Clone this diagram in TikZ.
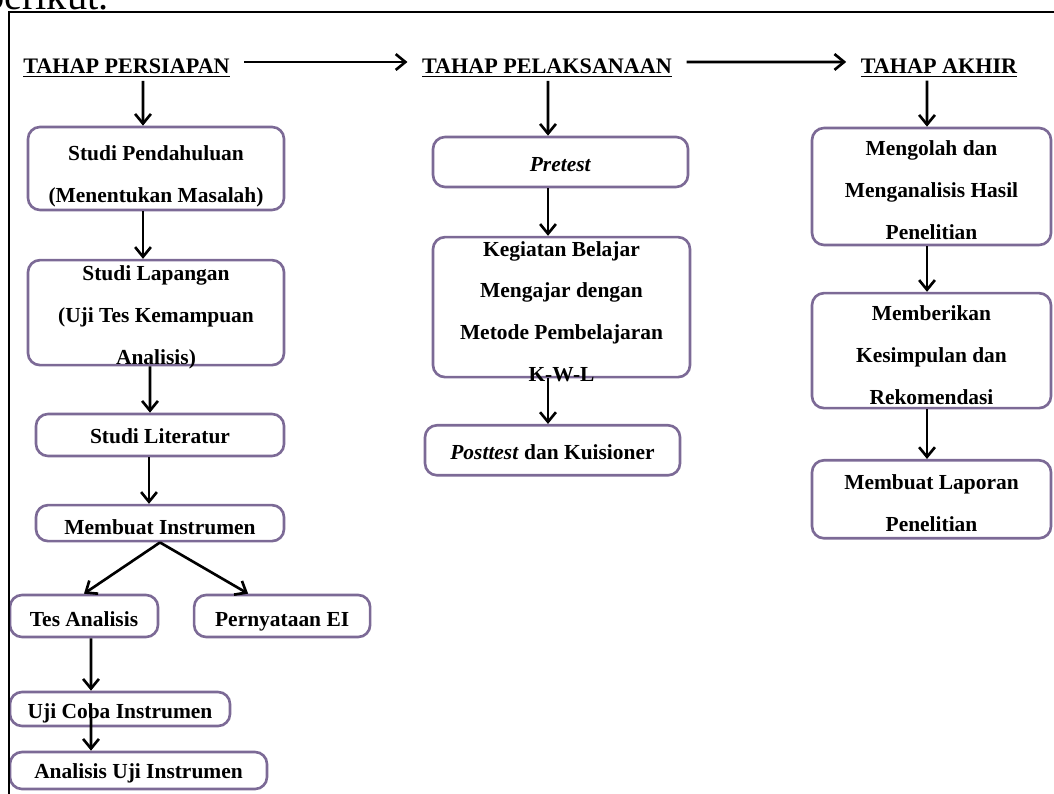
\documentclass[tikz,border=0pt]{standalone}
\usepackage{fontspec}
\setmainfont{Liberation Serif}
\usetikzlibrary{positioning,arrows.meta}
\definecolor{boxline}{RGB}{124,106,150}

\begin{document}
\begin{tikzpicture}[x=0.2mm, y=-0.2mm, line width=1.5pt,
    >={Straight Barb[length=5.5pt,width=9pt]},
    main/.style = {draw=boxline, line width=1.5pt, rounded corners=2.4mm, inner sep=0pt},
    txt/.style = {font=\bfseries\fontsize{12.2}{23.8}\selectfont, align=center, inner sep=0pt},
    one/.style = {txt, text height=8.5pt, text depth=2.6pt},
    head/.style = {font=\bfseries\fontsize{12.6}{15}\selectfont, inner sep=1pt, anchor=base},
    hline/.style = {->, shorten <=2.3mm, shorten >=2.3mm}]
    \useasboundingbox (0,0) rectangle (1054,794);
    \node[font=\fontsize{23}{23}\selectfont, anchor=base east, inner sep=0pt] (top) at (110,10) {berikut.};

    \node[head] (hp) at (126.5,74) {\underline{TAHAP PERSIAPAN}};
    \node[head] (hk) at (547,74) {\underline{TAHAP PELAKSANAAN}};
    \node[head] (ha) at (939,74) {\underline{TAHAP AKHIR}};

    \path[hline] ([yshift=1.3mm]hp.east) edge ([yshift=1.3mm]hk.west);
    \path[hline] ([yshift=1.3mm]hk.east) edge ([yshift=1.3mm]ha.west);

    % persiapan
    \node[main, minimum width=51.2mm, minimum height=16.6mm] (p1) at (156,168.5) {};
    \node[main, minimum width=51.2mm, minimum height=21mm] (p2) [below=9.5mm of p1] {};
    \node[main, minimum width=49.6mm, minimum height=8.4mm] (p3) at (160,435) {};
    \node[main, minimum width=49.6mm, minimum height=7.2mm] (p4) [below=9.3mm of p3] {};
    \node[main, minimum width=29.6mm, minimum height=8.4mm] (p5) at (84,616) {};
    \node[main, minimum width=35.2mm, minimum height=8.4mm] (p6) [right=6.7mm of p5] {};
    \node[main, minimum width=44mm, minimum height=6.8mm] (p7) at (120,709) {};
    \node[main, minimum width=51.4mm, minimum height=7.4mm] (p8) at (138.5,770.5) {};

    \node[txt, yshift=-1.6mm] (p1t) at (p1) {Studi Pendahuluan\\(Menentukan Masalah)};
    \node[txt, yshift=-1mm] (p2t) at (p2) {Studi Lapangan\\(Uji Tes Kemampuan\\Analisis)};
    \node[one, yshift=-0.6mm] (p3t) at (p3) {Studi Literatur};
    \node[one, yshift=-1.3mm] (p4t) at (p4) {Membuat Instrumen};
    \node[one, yshift=-1.1mm] (p5t) at (p5) {Tes Analisis};
    \node[one, yshift=-1.1mm] (p6t) at (p6) {Pernyataan EI};
    \node[one, yshift=-0.9mm] (p7t) at (p7) {Uji Coba Instrumen};
    \node[one, yshift=-0.5mm] (p8t) at (p8) {Analisis Uji Instrumen};

    \path[->] ([xshift=3.3mm]hp.south) edge ([xshift=-2.6mm]p1.north);
    \path[->] ([xshift=-2.6mm]p1.south) edge ([xshift=-2.6mm]p2.north);
    \path[->] ([xshift=-1.2mm]p2.south) edge ([xshift=-2mm]p3.north);
    \path[->] ([xshift=-2.2mm]p3.south) edge ([xshift=-2.2mm]p4.north);
    \path[->] (p4.south) edge (p5.north);
    \path[->] (p4.south) edge ([xshift=-6.8mm]p6.north);
    \path[->] ([xshift=1.4mm]p5.south) edge ([xshift=-5.8mm]p7.north);
    \path[->] ([xshift=-5.8mm]p7.center) edge ([xshift=-9.5mm]p8.north);

    % pelaksanaan
    \node[main, minimum width=51mm, minimum height=10mm] (k1) at (560.5,162) {};
    \node[main, minimum width=51.4mm, minimum height=28mm] (k2) [below=9.5mm of k1, xshift=0.2mm] {};
    \node[main, minimum width=51mm, minimum height=10mm] (k3) [below=9.1mm of k2, xshift=-1.8mm] {};

    \node[one, yshift=-0.9mm] (k1t) at (k1) {\textit{Pretest}};
    \node[txt, yshift=-0.9mm] (k2t) at (k2) {Kegiatan Belajar\\Mengajar dengan\\Metode Pembelajaran\\K-W-L};
    \node[one, yshift=-0.9mm] (k3t) at (k3) {\textit{Posttest} dan Kuisioner};

    \path[->] ([xshift=0.2mm]hk.south) edge ([xshift=-2.5mm]k1.north);
    \path[->] ([xshift=-2.5mm]k1.south) edge ([xshift=-2.7mm]k2.north);
    \path[->] ([xshift=-2.7mm]k2.south) edge ([xshift=-0.9mm]k3.north);

    % akhir
    \node[main, minimum width=47.8mm, minimum height=23.4mm] (a1) at (931.5,186.5) {};
    \node[main, minimum width=47.8mm, minimum height=23mm] (a2) [below=9.1mm of a1] {};
    \node[main, minimum width=47.8mm, minimum height=15.6mm] (a3) [below=9.9mm of a2] {};

    \node[txt, yshift=-0.7mm] (a1t) at (a1) {Mengolah dan\\Menganalisis Hasil\\Penelitian};
    \node[txt, yshift=-0.9mm] (a2t) at (a2) {Memberikan\\Kesimpulan dan\\Rekomendasi};
    \node[txt, yshift=-0.7mm] (a3t) at (a3) {Membuat Laporan\\Penelitian};

    \path[->] ([xshift=-2.4mm]ha.south) edge ([xshift=-0.9mm]a1.north);
    \path[->] ([xshift=-0.9mm]a1.south) edge ([xshift=-0.9mm]a2.north);
    \path[->] ([xshift=-0.9mm]a2.south) edge ([xshift=-0.9mm]a3.north);

    \draw (9,12) rectangle (1070,810);
\end{tikzpicture}
\end{document}
